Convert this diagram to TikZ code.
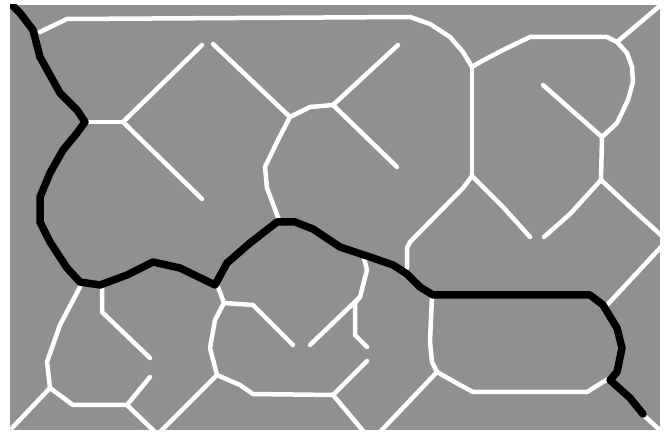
\documentclass[tikz,border=0pt]{standalone}
\definecolor{field}{gray}{0.565}
\begin{document}
\begin{tikzpicture}[x=1pt, y=-1pt,
		edge/.style={white, line width=4.5pt, line join=round, line cap=round},
		route/.style={black, line width=7.5pt, line join=round, line cap=round}]
		\useasboundingbox (0, 0) rectangle (670, 435);
		\fill[field] (10, 5) rectangle (660, 430);
		\clip (10, 5) rectangle (660, 430);
		
		% junctions of the skeleton
		\coordinate (j1) at (472, 67);
		\coordinate (j2) at (472, 176);
		\coordinate (j3) at (617, 42);
		\coordinate (j4) at (602, 137);
		\coordinate (j5) at (601, 180);
		\coordinate (j6) at (123, 122);
		\coordinate (j7) at (290, 117);
		\coordinate (j8) at (333, 105);
		\coordinate (j9) at (50, 388);
		\coordinate (j10) at (127, 405);
		\coordinate (j11) at (224, 303);
		\coordinate (j12) at (217, 375);
		\coordinate (j13) at (333, 395);
		\coordinate (j14) at (360, 297);
		\coordinate (j15) at (437, 372);
		
		% upper skeleton
		\draw[edge] (40, 32) -- (67, 19) -- (410, 17) -- (430, 24) -- (450, 37) -- (463, 52) -- (j1);
		\draw[edge] (j1) -- (j2);
		\draw[edge] (j1) -- (482, 61) -- (503, 50) -- (530, 37) -- (607, 37) -- (j3);
		\draw[edge] (j3) -- (662, 4);
		\draw[edge] (j3) -- (627, 53) -- (632, 67) -- (633, 82) -- (628, 100) -- (617, 123) -- (j4);
		\draw[edge] (j4) -- (543, 85);
		\draw[edge] (j4) -- (j5);
		\draw[edge] (j5) -- (630, 207) -- (662, 236);
		\draw[edge] (j5) -- (570, 214) -- (544, 237);
		\draw[edge] (j2) -- (503, 207) -- (530, 237);
		\draw[edge] (j2) -- (463, 188) -- (410, 242) -- (407, 248) -- (407, 268);
		\draw[edge] (88, 122) -- (j6);
		\draw[edge] (j6) -- (202, 45);
		\draw[edge] (j6) -- (202, 199);
		\draw[edge] (213, 44) -- (j7);
		\draw[edge] (j7) -- (310, 107) -- (j8);
		\draw[edge] (j8) -- (398, 45);
		\draw[edge] (j8) -- (397, 167);
		\draw[edge] (j7) -- (278, 140) -- (265, 167) -- (267, 188) -- (279, 220);
		
		% lower skeleton
		\draw[edge] (80, 287) -- (60, 325) -- (47, 362) -- (j9);
		\draw[edge] (j9) -- (12, 428);
		\draw[edge] (j9) -- (73, 405) -- (j10);
		\draw[edge] (j10) -- (155, 432);
		\draw[edge] (j10) -- (150, 377);
		\draw[edge] (102, 288) -- (102, 312) -- (150, 358);
		\draw[edge] (218, 287) -- (j11);
		\draw[edge] (j11) -- (253, 305) -- (293, 345);
		\draw[edge] (j11) -- (215, 320) -- (210, 348) -- (j12);
		\draw[edge] (j12) -- (160, 432);
		\draw[edge] (j12) -- (240, 385) -- (253, 394) -- (j13);
		\draw[edge] (j13) -- (364, 432);
		\draw[edge] (j13) -- (367, 361);
		\draw[edge] (364, 258) -- (367, 270) -- (j14);
		\draw[edge] (j14) -- (310, 345);
		\draw[edge] (j14) -- (355, 303) -- (355, 335) -- (367, 347);
		\draw[edge] (432, 296) -- (430, 342) -- (432, 362) -- (j15);
		\draw[edge] (j15) -- (380, 432);
		\draw[edge] (j15) -- (460, 385) -- (473, 392) -- (587, 392) -- (603, 382) -- (610, 378);
		\draw[edge] (607, 305) -- (662, 246);
		\draw[edge] (640, 412) -- (662, 432);
		
		% shortest route
		\draw[route] (13, 6) -- (20, 13) -- (33, 30) -- (40, 57) -- (60, 93) -- (77, 110) -- (85, 122)
		-- (77, 133) -- (63, 150) -- (50, 173) -- (40, 197) -- (40, 222) -- (50, 242) -- (67, 268)
		-- (80, 282) -- (100, 285) -- (127, 275) -- (153, 262) -- (180, 268) -- (215, 285)
		-- (227, 263) -- (250, 243) -- (277, 222) -- (295, 222) -- (313, 229) -- (340, 247)
		-- (370, 257) -- (393, 265) -- (407, 274) -- (420, 287) -- (433, 295) -- (590, 295)
		-- (603, 305) -- (617, 328) -- (622, 348) -- (617, 372) -- (610, 380) -- (630, 398) -- (643, 414);
	\end{tikzpicture}
\end{document}
